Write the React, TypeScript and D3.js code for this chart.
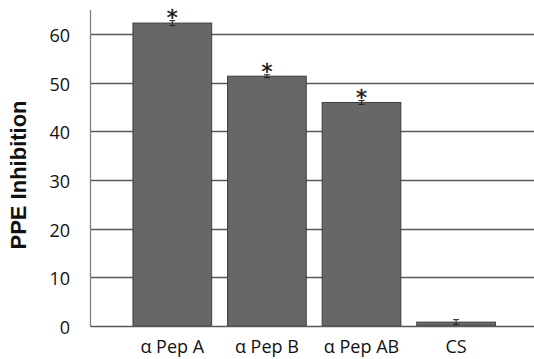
import React from "react";
import * as d3 from "d3";

const categories = ["α Pep A", "α Pep B", "α Pep AB", "CS"];
const values = [62.2, 51.3, 45.9, 0.8];
const errors = [0.5, 0.3, 0.4, 0.5];
const significant = [true, true, true, false];
const yTicks = [0, 10, 20, 30, 40, 50, 60];

const W = 534;
const H = 359;

export default function App() {
  const y = d3.scaleLinear().domain([0, 10]).range([326, 277.3]);
  const x = d3
    .scaleBand<string>()
    .domain(categories)
    .range([125, 503.4])
    .paddingInner(0.168)
    .paddingOuter(0.084);
  const axisX = 90.5;
  const font = "'Open Sans', 'DejaVu Sans', sans-serif";
  return (
    <div style={{ position: "fixed", left: 0, top: 0 }}>
      <svg width={W} height={H} style={{ display: "block", background: "#fff" }}>
        {yTicks.filter((t) => t > 0).map((t) => (
          <line key={t} x1={axisX} x2={W} y1={Math.round(y(t)) + 0.5} y2={Math.round(y(t)) + 0.5} stroke="#595959" strokeWidth={1.3} />
        ))}
        {categories.map((c, i) => (
          <g key={c}>
            <rect
              x={x(c)!}
              y={y(values[i])}
              width={x.bandwidth()}
              height={y(0) - y(values[i])}
              fill="#676767"
              stroke="#3f3f3f"
              strokeWidth={1}
            />
            <g stroke="#222" strokeWidth={1}>
              <line x1={x(c)! + x.bandwidth() / 2} x2={x(c)! + x.bandwidth() / 2} y1={y(values[i] + errors[i])} y2={y(values[i] - errors[i])} />
              <line x1={x(c)! + x.bandwidth() / 2 - 3} x2={x(c)! + x.bandwidth() / 2 + 3} y1={y(values[i] + errors[i])} y2={y(values[i] + errors[i])} />
              <line x1={x(c)! + x.bandwidth() / 2 - 3} x2={x(c)! + x.bandwidth() / 2 + 3} y1={y(values[i] - errors[i])} y2={y(values[i] - errors[i])} />
            </g>
            {significant[i] && (
              <text
                x={x(c)! + x.bandwidth() / 2}
                y={y(values[i] + errors[i]) + 4}
                textAnchor="middle"
                fontFamily="'DejaVu Sans', sans-serif"
                fontSize={22}
                fill="#111"
                stroke="#111"
                strokeWidth={0.4}
              >
                *
              </text>
            )}
            <text
              x={x(c)! + x.bandwidth() / 2}
              y={346}
              textAnchor="middle"
              dominantBaseline="central"
              fontFamily={font}
              fontSize={18}
              fill="#111"
            >
              {c}
            </text>
          </g>
        ))}
        <line x1={axisX} x2={axisX} y1={10} y2={326.5} stroke="#7f7f7f" strokeWidth={1.3} />
        <line x1={axisX} x2={W} y1={326.5} y2={326.5} stroke="#595959" strokeWidth={1.3} />
        {yTicks.map((t) => (
          <text
            key={t}
            x={70}
            y={y(t) + 1}
            textAnchor="end"
            dominantBaseline="central"
            fontFamily={font}
            fontSize={18}
            fill="#111"
          >
            {t}
          </text>
        ))}
        <text
          transform="translate(18,175) rotate(-90)"
          textAnchor="middle"
          dominantBaseline="central"
          fontFamily="'Liberation Sans', Arial, sans-serif"
          fontWeight="bold"
          fontSize={22}
          fill="#111"
        >
          PPE Inhibition
        </text>
      </svg>
    </div>
  );
}
